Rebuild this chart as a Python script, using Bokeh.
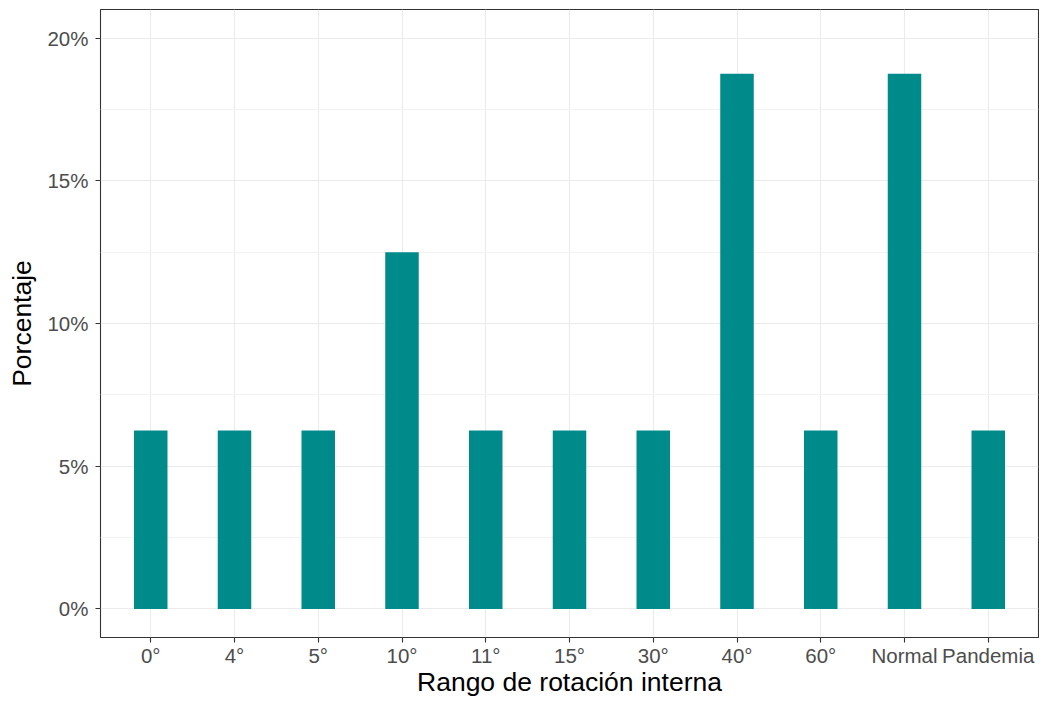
from bokeh.plotting import figure
from bokeh.models import FactorRange, Range1d, FixedTicker, NumeralTickFormatter, ColumnDataSource
from bokeh.embed import file_html
from bokeh.resources import INLINE

categories = ["0°", "4°", "5°", "10°", "11°", "15°", "30°", "40°", "60°", "Normal", "Pandemia"]
percentages = [0.0625, 0.0625, 0.0625, 0.125, 0.0625, 0.0625, 0.0625, 0.1875, 0.0625, 0.1875, 0.0625]
y_ticks = [0.0, 0.05, 0.10, 0.15, 0.20]
y_minor = [0.025, 0.075, 0.125, 0.175]

FONT = "Liberation Sans"

src = ColumnDataSource(dict(cat=categories, val=percentages))

p = figure(
    width=1039, height=699,
    x_range=FactorRange(factors=categories, range_padding=0.2 / 11, range_padding_units="percent"),
    y_range=Range1d(-0.01, 0.21),
    output_backend="svg", toolbar_location=None,
    min_border_left=100, min_border_right=1, min_border_top=9, min_border_bottom=62,
)

p.vbar(x="cat", top="val", width=0.4, source=src, fill_color="#008B8B", line_color=None)

p.background_fill_color = "white"
p.border_fill_color = "white"
p.outline_line_color = "#333333"
p.outline_line_width = 1.1

p.yaxis.ticker = FixedTicker(ticks=y_ticks, minor_ticks=y_minor)
p.yaxis.formatter = NumeralTickFormatter(format="0%")

for ax in (p.xaxis, p.yaxis):
    ax.axis_line_color = None
    ax.major_tick_line_color = "#333333"
    ax.major_tick_line_width = 1.1
    ax.major_tick_out = 5
    ax.major_tick_in = 0
    ax.minor_tick_line_color = None
    ax.major_label_text_font = FONT
    ax.major_label_text_font_size = "20.5px"
    ax.major_label_text_color = "#4D4D4D"
    ax.axis_label_text_font = FONT
    ax.axis_label_text_font_size = "26.5px"
    ax.axis_label_text_font_style = "normal"
    ax.axis_label_text_color = "black"

p.xaxis.axis_label = "Rango de rotación interna"
p.yaxis.axis_label = "Porcentaje"
p.xaxis.major_label_standoff = 1
p.xaxis.axis_label_standoff = -3
p.yaxis.major_label_standoff = 7
p.yaxis.axis_label_standoff = 7

p.xgrid.grid_line_color = "#EBEBEB"
p.xgrid.grid_line_width = 1.1
p.ygrid.grid_line_color = "#EBEBEB"
p.ygrid.grid_line_width = 1.1
p.ygrid.minor_grid_line_color = "#F2F2F2"
p.ygrid.minor_grid_line_width = 1

open("out.html", "w").write(file_html(p, INLINE))
